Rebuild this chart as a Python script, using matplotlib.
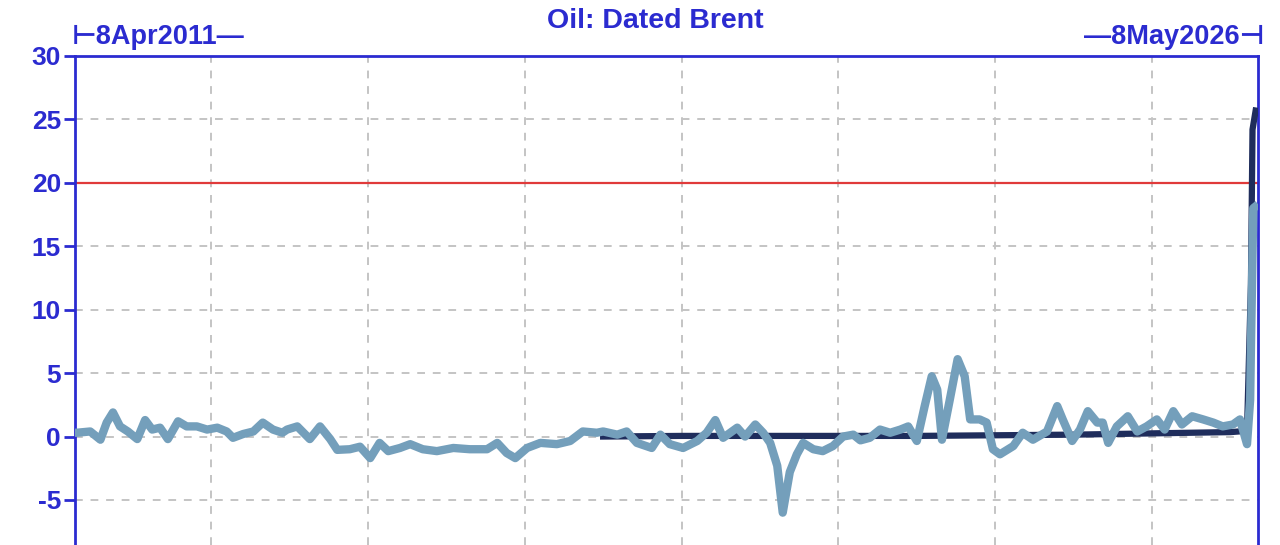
import matplotlib
matplotlib.use("Agg")
import matplotlib.pyplot as plt

# ---- data (decimal years) ----
light_t = [2011.27, 2011.29, 2011.46, 2011.59, 2011.67, 2011.75, 2011.84, 2011.94, 2012.06, 2012.16,
           2012.25, 2012.35, 2012.45, 2012.58, 2012.69, 2012.82, 2012.95, 2013.08, 2013.20, 2013.28,
           2013.41, 2013.54, 2013.66, 2013.79, 2013.91, 2013.97, 2014.10, 2014.26, 2014.39, 2014.52,
           2014.61, 2014.77, 2014.90, 2015.03, 2015.15, 2015.26, 2015.41, 2015.54, 2015.70, 2015.88,
           2016.09, 2016.30, 2016.52, 2016.65, 2016.77, 2016.88, 2017.03, 2017.20, 2017.41, 2017.58,
           2017.74, 2017.92, 2018.00, 2018.18, 2018.30, 2018.43, 2018.62, 2018.73, 2018.85, 2019.02,
           2019.20, 2019.32, 2019.43, 2019.53, 2019.71, 2019.81, 2019.94, 2020.04, 2020.13, 2020.22,
           2020.29, 2020.38, 2020.47, 2020.55, 2020.68, 2020.80, 2020.93, 2021.06, 2021.19, 2021.28,
           2021.40, 2021.53, 2021.66, 2021.79, 2021.89, 2022.00, 2022.10, 2022.19, 2022.26, 2022.32,
           2022.42, 2022.52, 2022.61, 2022.68, 2022.80, 2022.89, 2022.97, 2023.06, 2023.23, 2023.35,
           2023.48, 2023.66, 2023.79, 2023.86, 2023.98, 2024.08, 2024.18, 2024.30, 2024.37, 2024.44,
           2024.55, 2024.69, 2024.81, 2024.93, 2025.06, 2025.16, 2025.27, 2025.38, 2025.51, 2025.65,
           2025.78, 2025.90, 2026.03, 2026.12, 2026.21, 2026.25, 2026.26, 2026.29, 2026.31]
light_v = [0.3, 0.3, 0.4, -0.25, 1.1, 1.9, 0.8, 0.4, -0.2, 1.3,
           0.55, 0.7, -0.2, 1.2, 0.8, 0.8, 0.55, 0.7, 0.4, -0.1,
           0.2, 0.4, 1.1, 0.55, 0.3, 0.55, 0.8, -0.2, 0.8, -0.2,
           -1.05, -1.0, -0.8, -1.7, -0.5, -1.15, -0.9, -0.6, -1.0, -1.15,
           -0.9, -1.0, -1.0, -0.5, -1.3, -1.7, -0.9, -0.5, -0.6, -0.35,
           0.4, 0.3, 0.4, 0.15, 0.4, -0.5, -0.9, 0.15, -0.6, -0.9,
           -0.35, 0.3, 1.3, -0.1, 0.7, 0.0, 0.95, 0.3, -0.5, -2.3,
           -6.0, -2.8, -1.4, -0.5, -1.0, -1.15, -0.75, 0.0, 0.15, -0.3,
           -0.1, 0.55, 0.3, 0.55, 0.8, -0.35, 2.4, 4.75, 3.7, -0.25,
           2.9, 6.1, 4.75, 1.35, 1.35, 1.1, -1.0, -1.4, -0.75, 0.3,
           -0.25, 0.4, 2.4, 1.35, -0.35, 0.55, 2.0, 1.1, 1.1, -0.5,
           0.8, 1.6, 0.4, 0.8, 1.35, 0.55, 2.0, 0.95, 1.6, 1.35,
           1.1, 0.8, 0.95, 1.35, -0.6, 2.9, 7.0, 18.0, 18.1]

dark_t = [2018.00, 2019.00, 2020.00, 2021.00, 2022.00, 2023.00, 2024.00, 2024.50, 2025.00,
          2025.50, 2026.00, 2026.21, 2026.26, 2026.28, 2026.32]
dark_v = [0.0, 0.05, 0.05, 0.05, 0.05, 0.1, 0.15, 0.2, 0.25,
          0.3, 0.35, 0.45, 12.0, 24.2, 25.7]

threshold = 20
yticks = [-5, 0, 5, 10, 15, 20, 25, 30]
grid_years = [2013, 2015, 2017, 2019, 2021, 2023, 2025]
start_label = "⊢8Apr2011—"
end_label = "—8May2026⊣"
title = "Oil: Dated Brent"
x_start, x_end = 2011.266, 2026.35

BLUE = "#2b2bd0"
fam = ["Liberation Sans", "DejaVu Sans"]

fig = plt.figure(figsize=(12.8, 5.45), dpi=100)
ax = fig.add_axes([75 / 1280, 0.0, (1258 - 75) / 1280, 1 - 56 / 545])
ax.set_xlim(x_start, x_end)
ax.set_ylim(-8.55, 30)

for g in grid_years:
    ax.axvline(g, color="#c4c4c4", lw=1.4, ls=(0, (4, 4)), zorder=1)
for y in yticks:
    ax.axhline(y, color="#c4c4c4", lw=1.4, ls=(0, (4, 4)), zorder=1)

ax.axhline(threshold, color="#e03a3a", lw=1.6, zorder=2)
ax.plot(dark_t, dark_v, color="#1f2d5c", lw=4.5, zorder=3)
ax.plot(light_t, light_v, color="#749fbb", lw=6.0, zorder=4)

ax.set_yticks(yticks)
ax.set_yticklabels([str(v) for v in yticks], color=BLUE, fontsize=19,
                   fontweight="bold", family=fam)
ax.tick_params(axis="y", colors=BLUE, length=8, width=2, direction="out", pad=2)
ax.set_xticks([])
for s in ["left", "top", "right"]:
    ax.spines[s].set_color(BLUE)
    ax.spines[s].set_linewidth(2)
ax.spines["bottom"].set_visible(False)

fig.text(655 / 1280, 1 - 21 / 545, title, color=BLUE, fontsize=20.5, fontweight="bold",
         family=fam, ha="center", va="center")
fig.text(72 / 1280, 1 - 37 / 545, start_label, color=BLUE, fontsize=19.5, fontweight="bold",
         family=fam, ha="left", va="center")
fig.text(1264 / 1280, 1 - 37 / 545, end_label, color=BLUE, fontsize=19.5, fontweight="bold",
         family=fam, ha="right", va="center")

fig.savefig("out.png", dpi=100)
